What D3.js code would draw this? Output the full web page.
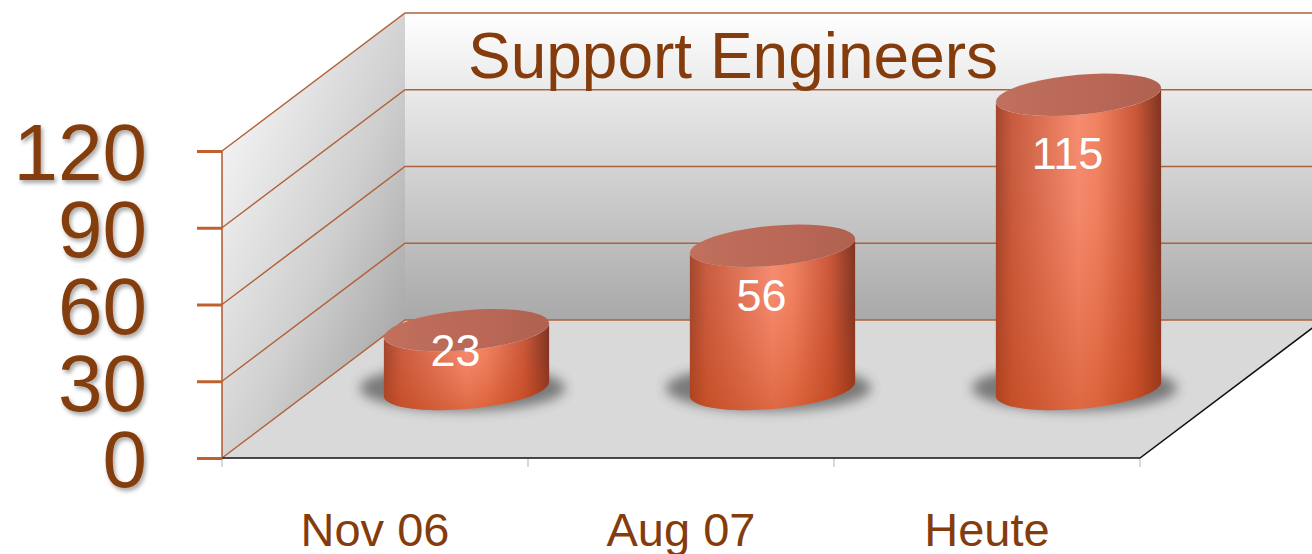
<!DOCTYPE html>
<html>
<head>
<meta charset="utf-8">
<script src="https://cdn.jsdelivr.net/npm/d3@7/dist/d3.min.js"></script>
<style>
  body { margin: 0; background: #fff; }
  svg { display: block; font-family: "Liberation Sans", Arial, sans-serif; }
</style>
</head>
<body>
<div class="chart"></div>
<script>
var categories = ['Nov 06', 'Aug 07', 'Heute'];
var engineers = [23, 56, 115];
var yTicks = [0, 30, 60, 90, 120];
var title = 'Support Engineers';

var W = 1312, H = 554;
var brown = '#843c0c';
var gridCol = '#b0623a';

// 3d box
var depthX = 183, depthY = 138;

var svg = d3.select('.chart').append('svg')
	.attr('width', W)
	.attr('height', H);

var x = d3.scaleBand().domain(categories).range([222, 1140]).padding(0);
var y = d3.scaleLinear().domain([0, 120]).range([458, 151]);

var defs = svg.append('defs');

function linGrad(id, x1, y1, x2, y2, stops) {
	var g = defs.append('linearGradient').attr('id', id)
		.attr('x1', x1).attr('y1', y1).attr('x2', x2).attr('y2', y2);
	stops.forEach(function(s){
		g.append('stop').attr('offset', s[0]).attr('stop-color', s[1]).attr('stop-opacity', s[2] == null ? 1 : s[2]);
	});
}

linGrad('backWall', 0, 0, 0, 1, [[0, '#ffffff'], [0.5, '#d4d4d4'], [1, '#a9a9a9']]);
linGrad('sideWall', 0, 0, 1, 1, [[0, '#ffffff'], [0.55, '#cfcfcf'], [1, '#979797']]);
linGrad('cylBody', 0, 0, 1, 0, [[0, '#a2452c'], [0.1, '#c85a3c'], [0.5, '#f58a6e'], [0.62, '#f0805f'], [0.85, '#c95536'], [1, '#7f3320']]);
linGrad('cylShade', 0, 0, 0, 1, [[0, '#ffffff', 0], [0.4, '#d04a1c', 0.05], [1, '#c0400f', 0.45]]);
linGrad('cylTop', 0, 0, 1, 0, [[0, '#c0705c'], [0.6, '#ba6756'], [1, '#b06150']]);

var sh = defs.append('filter').attr('id', 'txtShadow')
	.attr('x', '-20%').attr('y', '-20%').attr('width', '140%').attr('height', '140%');
sh.append('feDropShadow').attr('dx', 2).attr('dy', 3).attr('stdDeviation', 2)
	.attr('flood-color', '#000').attr('flood-opacity', 0.35);

defs.append('filter').attr('id', 'blur')
	.attr('x', '-50%').attr('y', '-100%').attr('width', '200%').attr('height', '300%')
	.append('feGaussianBlur').attr('stdDeviation', 6);

var x0 = x.range()[0], x1 = x.range()[1];
var yBot = y(0), yTop = y(120);

// side wall
svg.append('polygon')
	.attr('points', [[x0, yTop], [x0 + depthX, yTop - depthY], [x0 + depthX, yBot - depthY], [x0, yBot]].join(' '))
	.attr('fill', 'url(#sideWall)');

// back wall
svg.append('rect')
	.attr('x', x0 + depthX).attr('y', yTop - depthY)
	.attr('width', x1 - x0).attr('height', yBot - yTop)
	.attr('fill', 'url(#backWall)');

// floor
svg.append('polygon')
	.attr('points', [[x0, yBot], [x1, yBot], [x1 + depthX, yBot - depthY], [x0 + depthX, yBot - depthY]].join(' '))
	.attr('fill', '#d9d9d9');

// gridlines
svg.append('g').selectAll('path')
	.data(yTicks)
	.enter().append('path')
	.attr('d', function(d){
		var yy = y(d);
		return 'M' + x0 + ',' + yy + 'L' + (x0 + depthX) + ',' + (yy - depthY) + 'L' + (x1 + depthX) + ',' + (yy - depthY);
	})
	.attr('fill', 'none')
	.attr('stroke', gridCol)
	.attr('stroke-width', 1.5);

// floor front edges
svg.append('path')
	.attr('d', 'M' + x0 + ',' + yBot + 'L' + x1 + ',' + yBot + 'L' + (x1 + depthX) + ',' + (yBot - depthY))
	.attr('fill', 'none')
	.attr('stroke', '#111')
	.attr('stroke-width', 1.5);

// category ticks
var bounds = categories.map(function(c){ return x(c); }).concat([x1]);
svg.append('g').selectAll('line')
	.data(bounds)
	.enter().append('line')
	.attr('x1', function(d){ return d; }).attr('x2', function(d){ return d; })
	.attr('y1', yBot + 1).attr('y2', yBot + 9)
	.attr('stroke', '#d9d9d9')
	.attr('stroke-width', 2);

// y axis
var yAxis = svg.append('g')
	.attr('transform', 'translate(' + x0 + ',0)')
	.call(d3.axisLeft(y).tickValues(yTicks).tickSize(25).tickPadding(50).tickSizeOuter(0));
yAxis.select('.domain').attr('stroke', '#b0562a').attr('stroke-width', 1.5)
	.attr('d', 'M0,' + yTop + 'V' + yBot);
yAxis.selectAll('.tick line').attr('stroke', '#c0602c').attr('stroke-width', 3);
yAxis.selectAll('.tick text')
	.attr('fill', brown)
	.attr('font-size', 80)
	.attr('font-family', '"Liberation Sans", Arial, sans-serif')
	.attr('dy', '0.36em')
	.attr('filter', 'url(#txtShadow)');

// cylinders
var a = x.bandwidth() * 0.27, b = 20, k = 7;
function ellPt(cx, cy, t) {
	return [cx + a * Math.cos(t), cy + b * Math.sin(t) - k * Math.cos(t)];
}
function arc(cx, cy, t0, t1) {
	var pts = [];
	for (var i = 0; i <= 40; i++) {
		pts.push(ellPt(cx, cy, t0 + (t1 - t0) * i / 40));
	}
	return pts;
}

var bars = categories.map(function(c, i){
	var v = engineers[i];
	return {
		cat: c,
		v: v,
		cx: x(c) + x.bandwidth() / 2 + depthX / 2,
		base: y(0) - depthY / 2,
		top: y(v) - depthY / 2
	};
});

var line = d3.line();

var g = svg.append('g');
bars.forEach(function(d){
	// shadow
	g.append('ellipse')
		.attr('cx', d.cx - 4).attr('cy', d.base - 1)
		.attr('rx', a + 20).attr('ry', b + 3)
		.attr('fill', '#3a3a3a')
		.attr('opacity', 0.6)
		.attr('filter', 'url(#blur)');

	var body = [[d.cx - a, d.top + k]]
		.concat(arc(d.cx, d.base, Math.PI, 0))
		.concat(arc(d.cx, d.top, 0, Math.PI));
	g.append('path').attr('d', line(body) + 'Z').attr('fill', 'url(#cylBody)');
	g.append('path').attr('d', line(body) + 'Z').attr('fill', 'url(#cylShade)');
	g.append('path').attr('d', line(arc(d.cx, d.top, 0, 2 * Math.PI)) + 'Z')
		.attr('fill', 'url(#cylTop)');
});

// value labels
svg.append('g').selectAll('text')
	.data(bars)
	.enter().append('text')
	.attr('x', function(d){ return d.cx - 11; })
	.attr('y', function(d){ return d.top + Math.min(58, 0.34 * (d.base - d.top)); })
	.attr('dy', '0.36em')
	.attr('text-anchor', 'middle')
	.attr('fill', '#fff')
	.attr('font-size', 45)
	.text(function(d){ return d.v; });

// category labels
svg.append('g').selectAll('text')
	.data(categories)
	.enter().append('text')
	.attr('x', function(d){ return x(d) + x.bandwidth() / 2; })
	.attr('y', 546)
	.attr('text-anchor', 'middle')
	.attr('fill', brown)
	.attr('font-size', 47)
	.text(function(d){ return d; });

// title
svg.append('text')
	.attr('x', 733)
	.attr('y', 78)
	.attr('text-anchor', 'middle')
	.attr('fill', brown)
	.attr('font-size', 64)
	.text(title);
</script>
</body>
</html>
